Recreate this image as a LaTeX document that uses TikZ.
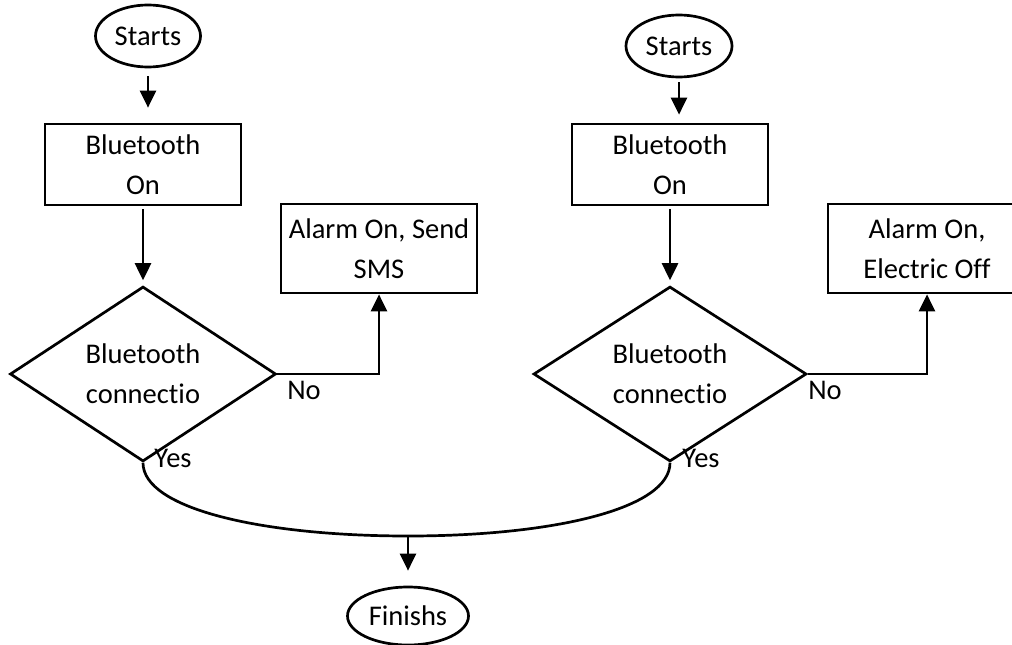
\documentclass[tikz,border=0pt]{standalone}
\usepackage{fontspec}
\setmainfont[RawFeature=-liga]{Carlito}
\usetikzlibrary{shapes.geometric,arrows.meta,calc}
\begin{document}
\begin{tikzpicture}[x=1pt,y=-1pt,
  every node/.style={font=\fontsize{28.5}{40}\selectfont, inner sep=0pt, align=center},
  term/.style={draw, ellipse, line width=2.7pt},
  proc/.style={draw, rectangle, line width=2.7pt, minimum height=81pt},
  dec/.style={draw, diamond, line width=2.7pt},
  conn/.style={line width=2.7pt, -{Triangle[length=17pt,width=16pt]}},
  link/.style={line width=2.7pt}
]
\useasboundingbox (0,0) rectangle (1012,645);
% left flow
\node[term, minimum width=105pt, minimum height=62pt] (s1) at (148,36) {Starts};
\node[proc, minimum width=196pt] (b1) at (143,164.5) {Bluetooth\\On};
\node[proc, minimum width=196pt, minimum height=89pt] (a1) at (379,248.5) {Alarm On, Send\\SMS};
\node[dec, minimum width=266pt, minimum height=160pt] (d1) at (143,374) {Bluetooth\\connectio};
% right flow
\node[term, minimum width=106pt, minimum height=62pt] (s2) at (679,46) {Starts};
\node[proc, minimum width=196pt] (b2) at (670,164.5) {Bluetooth\\On};
\node[proc, minimum width=198pt, minimum height=89pt] (a2) at (927,248.5) {Alarm On,\\Electric Off};
\node[dec, minimum width=273pt, minimum height=160pt] (d2) at (670,374) {Bluetooth\\connectio};
% end
\node[term, minimum width=121pt, minimum height=58pt] (f) at (408,616) {Finishs};
\coordinate (m) at (408,536);
% labels
\node (no1) at (304,390) {No};
\node (yes1) at (173,458) {Yes};
\node (no2) at (825,390) {No};
\node (yes2) at (701,458) {Yes};
% connectors
\draw[conn, shorten <=8pt, shorten >=15pt] (s1.south) -- (s1.south |- b1.north);
\draw[conn, shorten <=4pt, shorten >=8pt] (s2.south) -- (s2.south |- b2.north);
\draw[conn, shorten <=3pt, shorten >=5pt] (b1.south) -- (d1.north);
\draw[conn, shorten <=3pt, shorten >=5pt] (b2.south) -- (d2.north);
\draw[conn] (d1.east) -| (a1.south);
\draw[conn] (d2.east) -| (a2.south);
\draw[link] (d1.south) .. controls ($(d1.south)+(0,46)$) and ($(m)+(-146,0)$) .. (m)
            .. controls ($(m)+(145,0)$) and ($(d2.south)+(0,46)$) .. (d2.south);
\draw[conn, shorten >=15pt] (m) -- (f.north);
\end{tikzpicture}
\end{document}
